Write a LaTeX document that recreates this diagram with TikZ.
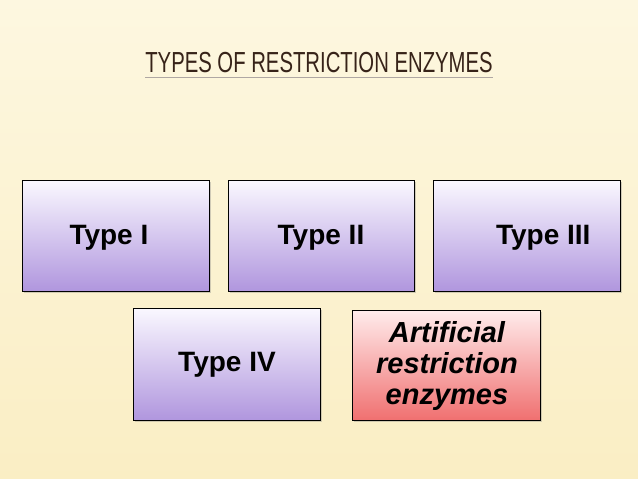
\documentclass[tikz,border=0pt]{standalone}
\usepackage{fontspec}
\setmainfont{Liberation Sans}
\usetikzlibrary{shadows}
\definecolor{paper}{RGB}{250,238,196}
\definecolor{paperlight}{RGB}{253,247,224}
\definecolor{lavtop}{RGB}{250,248,255}
\definecolor{lavbot}{RGB}{176,150,222}
\definecolor{pinktop}{RGB}{255,236,236}
\definecolor{pinkbot}{RGB}{240,112,112}
\definecolor{titlecol}{RGB}{55,35,25}
\begin{document}
\begin{tikzpicture}[x=1pt,y=-1pt]
  \tikzstyle{typebox}=[draw=black,thick,top color=lavtop,bottom color=lavbot,
    drop shadow={opacity=0.35,shadow xshift=2pt,shadow yshift=-2pt}]
  \tikzstyle{artbox}=[draw=black,thick,top color=pinktop,bottom color=pinkbot,
    drop shadow={opacity=0.35,shadow xshift=2pt,shadow yshift=-2pt}]
  \tikzstyle{boxtext}=[font=\fontsize{28}{32}\selectfont\bfseries]
  \useasboundingbox (0,0) rectangle (638,479);
  \shade[top color=paperlight,bottom color=paper] (0,0) rectangle (638,479);
  % title
  \node[text=titlecol,font=\fontsize{29}{32}\selectfont] (title) at (319,63)
    {\scalebox{0.70}[1]{TYPES OF RESTRICTION ENZYMES}};
  \draw[titlecol!40,thin] (145,77) -- (493,77);
  % boxes
  \draw[typebox] (22,180) rectangle (209,291);
  \draw[typebox] (228,180) rectangle (414,291);
  \draw[typebox] (433,180) rectangle (620,291);
  \draw[typebox] (133,308) rectangle (320,420);
  \draw[artbox] (352,310) rectangle (540,420);
  \node[boxtext,anchor=west] (t1) at (66,238) {Type I};
  \node[boxtext] (t2) at (321,238) {Type II};
  \node[boxtext,anchor=east] (t3) at (594,238) {Type III};
  \node[boxtext] (t4) at (227,365) {Type IV};
  \node[boxtext,font=\fontsize{29}{31}\selectfont\bfseries\itshape,align=center] (t5)
    at (447,366) {Artificial\\restriction\\enzymes};
\end{tikzpicture}
\end{document}
